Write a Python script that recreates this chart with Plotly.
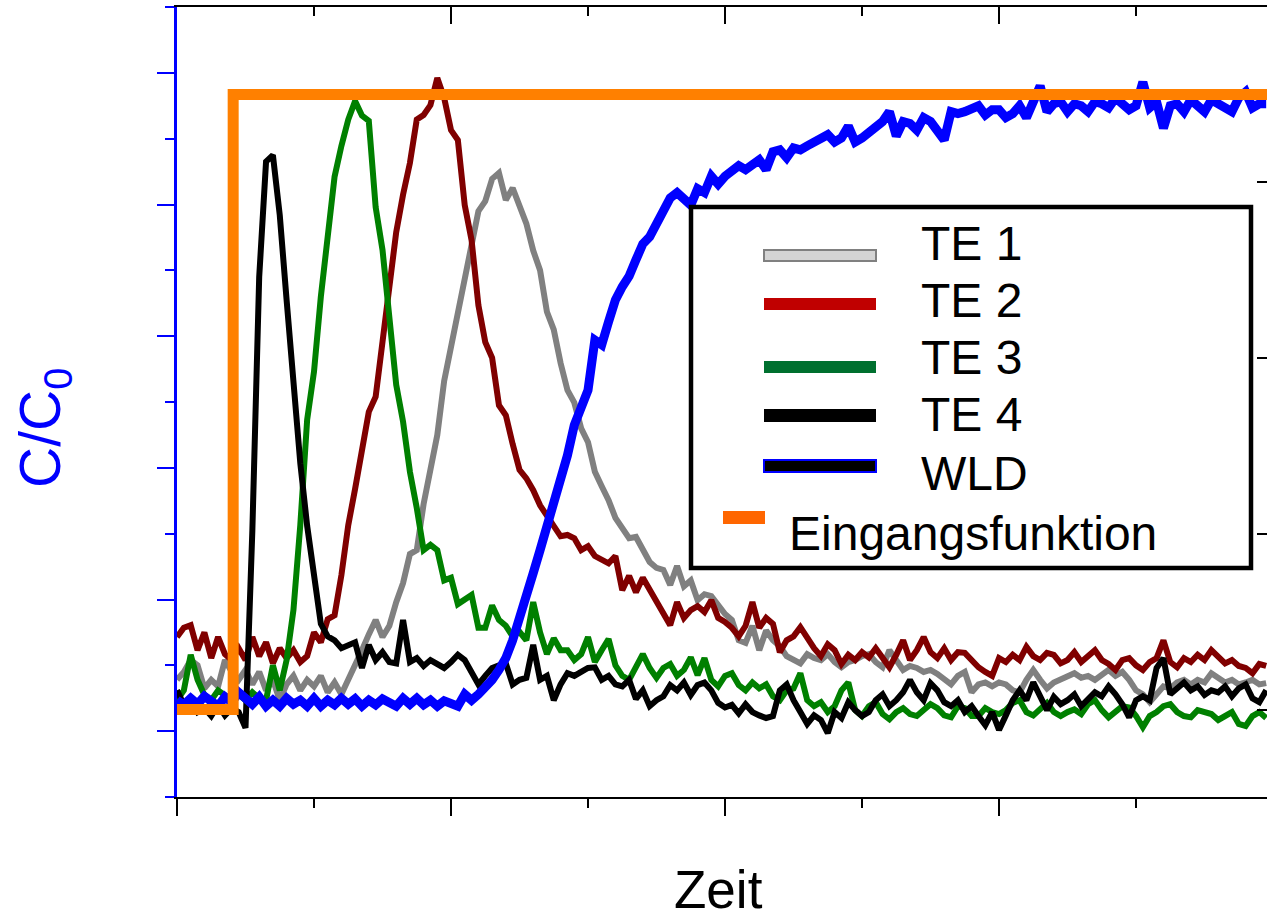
import plotly.graph_objects as go

# ---------------- data ----------------
zeit = [0, 5, 10, 15, 20, 25, 30, 35, 40, 45, 50, 55, 60, 65, 70, 75, 80, 85, 90, 95,
        100, 105, 110, 115, 120, 125, 130, 135, 140, 145, 150, 155, 160, 165, 170, 175, 180, 185, 190, 195,
        200, 205, 210, 215, 220, 225, 230, 235, 240, 245, 250, 255, 260, 265, 270, 275, 280, 285, 290, 295,
        300, 305, 310, 315, 320, 325, 330, 335, 340, 345, 350, 355, 360, 365, 370, 375, 380, 385, 390, 395,
        400, 405, 410, 415, 420, 425, 430, 435, 440, 445, 450, 455, 460, 465, 470, 475, 480, 485, 490, 495,
        500, 505, 510, 515, 520, 525, 530, 535, 540, 545, 550, 555, 560, 565, 570, 575, 580, 585, 590, 595,
        600, 605, 610, 615, 620, 625, 630, 635, 640, 645, 650, 655, 660, 665, 670, 675, 680, 685, 690, 695,
        700, 705, 710, 715, 720, 725, 730, 735, 740, 745, 750, 755, 760, 765, 770, 775, 780, 785, 790, 795]

te1 = [0.078, 0.090, 0.108, 0.100, 0.065, 0.078, 0.068, 0.108, 0.090, 0.078,
       0.093, 0.071, 0.090, 0.062, 0.078, 0.047, 0.071, 0.084, 0.062, 0.078,
       0.068, 0.084, 0.059, 0.074, 0.056, 0.078, 0.096, 0.123, 0.147, 0.169,
       0.143, 0.160, 0.196, 0.225, 0.269, 0.275, 0.345, 0.394, 0.450, 0.532,
       0.585, 0.628, 0.690, 0.740, 0.790, 0.805, 0.839, 0.848, 0.807, 0.825,
       0.795, 0.771, 0.730, 0.700, 0.637, 0.610, 0.559, 0.518, 0.499, 0.460,
       0.439, 0.394, 0.372, 0.351, 0.324, 0.309, 0.293, 0.295, 0.275, 0.257,
       0.248, 0.245, 0.222, 0.251, 0.220, 0.229, 0.199, 0.208, 0.205, 0.190,
       0.178, 0.169, 0.138, 0.134, 0.160, 0.123, 0.153, 0.138, 0.129, 0.114,
       0.108, 0.103, 0.117, 0.111, 0.108, 0.117, 0.105, 0.097, 0.105, 0.108,
       0.114, 0.117, 0.105, 0.097, 0.123, 0.108, 0.093, 0.099, 0.096, 0.090,
       0.093, 0.087, 0.078, 0.071, 0.084, 0.090, 0.059, 0.071, 0.074, 0.068,
       0.074, 0.071, 0.062, 0.059, 0.078, 0.093, 0.078, 0.065, 0.074, 0.078,
       0.084, 0.088, 0.081, 0.084, 0.078, 0.087, 0.093, 0.084, 0.090, 0.078,
       0.062, 0.056, 0.044, 0.056, 0.068, 0.065, 0.074, 0.078, 0.071, 0.078,
       0.074, 0.088, 0.081, 0.074, 0.078, 0.071, 0.074, 0.078, 0.071, 0.073]

te2 = [0.143, 0.157, 0.161, 0.123, 0.150, 0.111, 0.143, 0.117, 0.108, 0.126,
       0.108, 0.143, 0.114, 0.135, 0.103, 0.126, 0.111, 0.123, 0.105, 0.114,
       0.150, 0.135, 0.170, 0.176, 0.237, 0.313, 0.368, 0.432, 0.485, 0.508,
       0.594, 0.690, 0.758, 0.815, 0.863, 0.929, 0.936, 0.951, 0.992, 0.962,
       0.913, 0.898, 0.799, 0.746, 0.647, 0.591, 0.567, 0.495, 0.480, 0.436,
       0.397, 0.384, 0.366, 0.343, 0.328, 0.312, 0.296, 0.298, 0.293, 0.275,
       0.281, 0.266, 0.260, 0.255, 0.266, 0.214, 0.236, 0.211, 0.233, 0.214,
       0.195, 0.176, 0.161, 0.196, 0.172, 0.184, 0.190, 0.181, 0.199, 0.172,
       0.166, 0.157, 0.144, 0.160, 0.196, 0.157, 0.172, 0.163, 0.120, 0.138,
       0.144, 0.158, 0.141, 0.126, 0.114, 0.132, 0.123, 0.102, 0.116, 0.108,
       0.120, 0.112, 0.126, 0.111, 0.097, 0.116, 0.138, 0.108, 0.123, 0.143,
       0.120, 0.111, 0.126, 0.108, 0.120, 0.119, 0.108, 0.097, 0.090, 0.084,
       0.111, 0.105, 0.116, 0.108, 0.128, 0.114, 0.108, 0.119, 0.116, 0.103,
       0.108, 0.120, 0.105, 0.114, 0.123, 0.108, 0.102, 0.093, 0.108, 0.111,
       0.100, 0.093, 0.105, 0.111, 0.138, 0.105, 0.097, 0.111, 0.105, 0.116,
       0.108, 0.123, 0.114, 0.103, 0.108, 0.099, 0.096, 0.088, 0.102, 0.099]

te3 = [0.047, 0.062, 0.116, 0.078, 0.055, 0.047, 0.062, 0.055, 0.047, 0.056,
       0.047, 0.059, 0.050, 0.047, 0.100, 0.062, 0.108, 0.184, 0.313, 0.473,
       0.546, 0.660, 0.746, 0.842, 0.889, 0.929, 0.957, 0.935, 0.927, 0.796,
       0.731, 0.625, 0.526, 0.470, 0.394, 0.339, 0.275, 0.283, 0.275, 0.229,
       0.233, 0.193, 0.199, 0.207, 0.157, 0.157, 0.191, 0.169, 0.160, 0.144,
       0.151, 0.138, 0.196, 0.150, 0.117, 0.141, 0.123, 0.123, 0.108, 0.117,
       0.143, 0.105, 0.123, 0.140, 0.100, 0.084, 0.078, 0.100, 0.117, 0.096,
       0.081, 0.096, 0.102, 0.084, 0.093, 0.112, 0.085, 0.111, 0.078, 0.068,
       0.084, 0.088, 0.070, 0.062, 0.074, 0.065, 0.071, 0.053, 0.047, 0.062,
       0.065, 0.088, 0.047, 0.038, 0.044, 0.029, 0.038, 0.062, 0.074, 0.032,
       0.023, 0.038, 0.044, 0.026, 0.018, 0.029, 0.035, 0.026, 0.023, 0.032,
       0.041, 0.035, 0.024, 0.021, 0.038, 0.035, 0.023, 0.023, 0.035, 0.029,
       0.026, 0.032, 0.043, 0.047, 0.029, 0.024, 0.035, 0.043, 0.029, 0.023,
       0.029, 0.033, 0.026, 0.041, 0.047, 0.032, 0.021, 0.029, 0.038, 0.036,
       0.023, 0.006, 0.023, 0.029, 0.038, 0.041, 0.029, 0.023, 0.021, 0.032,
       0.029, 0.026, 0.017, 0.023, 0.029, 0.011, 0.008, 0.023, 0.029, 0.020]

te4 = [0.062, 0.040, 0.047, 0.029, 0.035, 0.023, 0.040, 0.024, 0.035, 0.029,
       0.005, 0.305, 0.690, 0.865, 0.875, 0.784, 0.655, 0.526, 0.407, 0.312,
       0.237, 0.163, 0.144, 0.138, 0.126, 0.131, 0.135, 0.096, 0.131, 0.108,
       0.120, 0.105, 0.103, 0.169, 0.105, 0.111, 0.099, 0.108, 0.102, 0.096,
       0.105, 0.116, 0.108, 0.091, 0.071, 0.084, 0.096, 0.100, 0.103, 0.071,
       0.078, 0.081, 0.131, 0.078, 0.084, 0.047, 0.071, 0.088, 0.084, 0.090,
       0.096, 0.097, 0.078, 0.084, 0.071, 0.068, 0.078, 0.049, 0.062, 0.038,
       0.047, 0.053, 0.070, 0.062, 0.074, 0.055, 0.070, 0.074, 0.062, 0.043,
       0.036, 0.040, 0.027, 0.041, 0.029, 0.024, 0.020, 0.023, 0.062, 0.071,
       0.047, 0.029, 0.011, 0.024, 0.017, -0.003, 0.029, 0.020, 0.044, 0.032,
       0.023, 0.029, 0.047, 0.056, 0.038, 0.047, 0.059, 0.078, 0.059, 0.047,
       0.073, 0.062, 0.044, 0.038, 0.047, 0.029, 0.038, 0.023, 0.009, 0.029,
       0.002, 0.024, 0.047, 0.062, 0.047, 0.074, 0.053, 0.032, 0.052, 0.041,
       0.047, 0.056, 0.038, 0.047, 0.059, 0.053, 0.068, 0.056, 0.041, 0.021,
       0.047, 0.053, 0.047, 0.096, 0.111, 0.056, 0.065, 0.074, 0.062, 0.068,
       0.055, 0.062, 0.059, 0.068, 0.053, 0.065, 0.071, 0.050, 0.044, 0.062]

wld = [0.047, 0.040, 0.050, 0.041, 0.053, 0.044, 0.038, 0.052, 0.044, 0.059,
       0.050, 0.041, 0.052, 0.038, 0.047, 0.038, 0.050, 0.041, 0.047, 0.038,
       0.050, 0.038, 0.047, 0.040, 0.050, 0.041, 0.049, 0.038, 0.047, 0.040,
       0.049, 0.044, 0.038, 0.050, 0.041, 0.050, 0.040, 0.047, 0.038, 0.046,
       0.041, 0.038, 0.056, 0.047, 0.056, 0.065, 0.078, 0.093, 0.111, 0.138,
       0.169, 0.205, 0.240, 0.275, 0.312, 0.343, 0.378, 0.419, 0.465, 0.495,
       0.518, 0.594, 0.587, 0.622, 0.655, 0.675, 0.691, 0.716, 0.740, 0.751,
       0.772, 0.792, 0.810, 0.818, 0.810, 0.799, 0.824, 0.818, 0.843, 0.831,
       0.843, 0.850, 0.859, 0.853, 0.860, 0.868, 0.853, 0.880, 0.883, 0.871,
       0.886, 0.883, 0.889, 0.894, 0.898, 0.906, 0.895, 0.901, 0.919, 0.895,
       0.901, 0.910, 0.919, 0.926, 0.941, 0.904, 0.926, 0.923, 0.913, 0.932,
       0.926, 0.910, 0.898, 0.941, 0.938, 0.941, 0.947, 0.950, 0.936, 0.944,
       0.944, 0.932, 0.938, 0.950, 0.932, 0.953, 0.980, 0.941, 0.953, 0.956,
       0.941, 0.953, 0.950, 0.941, 0.956, 0.953, 0.947, 0.962, 0.953, 0.944,
       0.950, 0.986, 0.947, 0.956, 0.916, 0.950, 0.953, 0.941, 0.959, 0.950,
       0.941, 0.959, 0.953, 0.950, 0.941, 0.962, 0.971, 0.947, 0.953, 0.953]

eingang_zeit = [0, 41, 41, 800]
eingang_wert = [0.033, 0.033, 0.967, 0.967]

legend_labels = ["TE 1", "TE 2", "TE 3", "TE 4", "WLD", "Eingangsfunktion"]

# ---------------- figure ----------------
W, H = 1267, 917
ML, MR, MT, MB = 177, 0, 7, 120
PW, PH = W - ML - MR, H - MT - MB
FONT = "Liberation Sans, Arial, sans-serif"


def px(xp):
    return (xp - ML) / PW


def py(yp):
    return (H - MB - yp) / PH


fig = go.Figure()
series = [
    (legend_labels[0], te1, "#808080", 6),
    (legend_labels[1], te2, "#800000", 6),
    (legend_labels[2], te3, "#008000", 6),
    (legend_labels[3], te4, "#000000", 6),
    (legend_labels[4], wld, "#0000FF", 9),
]
for name, ys, col, w in series:
    fig.add_trace(go.Scatter(x=zeit, y=ys, mode="lines", name=name,
                             line=dict(color=col, width=w), showlegend=False))
fig.add_trace(go.Scatter(x=eingang_zeit, y=eingang_wert, mode="lines",
                         name=legend_labels[5],
                         line=dict(color="#FF8000", width=11), showlegend=False))
# empty helper traces so that the top and right frame axes are drawn
fig.add_trace(go.Scatter(x=[None], y=[None], xaxis="x2", yaxis="y",
                         showlegend=False, hoverinfo="skip"))
fig.add_trace(go.Scatter(x=[None], y=[None], xaxis="x", yaxis="y2",
                         showlegend=False, hoverinfo="skip"))

xr = [0, 795.6]
common_x = dict(range=xr, tick0=0, dtick=200, ticklen=17, tickwidth=2,
                tickcolor="black", showline=True, linecolor="black", linewidth=2,
                showticklabels=False, showgrid=False, zeroline=False)

fig.update_layout(
    width=W, height=H,
    margin=dict(l=ML, r=MR, t=MT, b=MB, pad=0, autoexpand=False),
    paper_bgcolor="white", plot_bgcolor="white",
    font=dict(family=FONT, color="black"),
    showlegend=False,
    xaxis=dict(**common_x, ticks="outside",
               minor=dict(dtick=100, tick0=0, ticks="outside", ticklen=9,
                          tickwidth=2, tickcolor="black", showgrid=False)),
    xaxis2=dict(**common_x, ticks="inside", overlaying="x", side="top", anchor="y",
                minor=dict(dtick=100, tick0=0, ticks="inside", ticklen=9,
                           tickwidth=2, tickcolor="black", showgrid=False)),
    yaxis=dict(range=[-0.1, 1.1], tick0=0, dtick=0.2, ticks="outside", ticklen=17,
               tickwidth=2, tickcolor="#0000FF", showline=True, linecolor="#0000FF",
               linewidth=3, showticklabels=False, showgrid=False, zeroline=False,
               minor=dict(dtick=0.1, tick0=0, ticks="outside", ticklen=9,
                          tickwidth=2, tickcolor="#0000FF", showgrid=False)),
    yaxis2=dict(range=[0, 4.489], tick0=0.494, dtick=1, ticks="inside", ticklen=10,
                tickwidth=2, tickcolor="black", showline=False, showticklabels=False,
                showgrid=False, zeroline=False, overlaying="y", side="right", anchor="x"),
)

# ---- custom legend (box, samples, labels) ----
shapes = []
annos = []
shapes.append(dict(type="rect", xref="paper", yref="paper",
                   x0=px(691), x1=px(1251), y0=py(207), y1=py(568),
                   line=dict(color="black", width=4.5), fillcolor="white", layer="above"))
samples = [
    (250, 261, "#D4D4D4", "#808080"),
    (298, 310, "#C00000", None),
    (361, 373, "#00702F", None),
    (409, 422, "#000000", None),
    (460, 472, "#000000", "#0000FF"),
]
text_y = [245, 302, 359, 416, 475]
for (y0, y1, fill, edge), ty, lab in zip(samples, text_y, legend_labels[:5]):
    shapes.append(dict(type="rect", xref="paper", yref="paper",
                       x0=px(764), x1=px(876), y0=py(y1), y1=py(y0),
                       fillcolor=fill,
                       line=dict(color=edge if edge else fill, width=2 if edge else 0),
                       layer="above"))
    annos.append(dict(text=lab, xref="paper", yref="paper", x=px(919), y=py(ty - 2),
                      xanchor="left", yanchor="middle", showarrow=False,
                      font=dict(size=48, family=FONT, color="black")))
shapes.append(dict(type="rect", xref="paper", yref="paper",
                   x0=px(723), x1=px(765), y0=py(524), y1=py(511),
                   fillcolor="#FF6600", line=dict(width=0), layer="above"))
annos.append(dict(text=legend_labels[5], xref="paper", yref="paper", x=px(787), y=py(533),
                  xanchor="left", yanchor="middle", showarrow=False,
                  font=dict(size=48, family=FONT, color="black")))

# axis titles
annos.append(dict(text="Zeit", xref="paper", yref="paper", x=px(718), y=py(889),
                  xanchor="center", yanchor="middle", showarrow=False,
                  font=dict(size=53, family=FONT, color="black")))
annos.append(dict(text="C/C<sub>0</sub>", xref="paper", yref="paper", x=px(44), y=py(428),
                  xanchor="center", yanchor="middle", showarrow=False, textangle=-90,
                  font=dict(size=57, family=FONT, color="#0000FF")))

fig.update_layout(shapes=shapes, annotations=annos)
fig.write_html("out.html", config={"displayModeBar": False},
               post_script="document.body.style.margin='0';document.body.style.padding='0';document.body.style.overflow='hidden';")
